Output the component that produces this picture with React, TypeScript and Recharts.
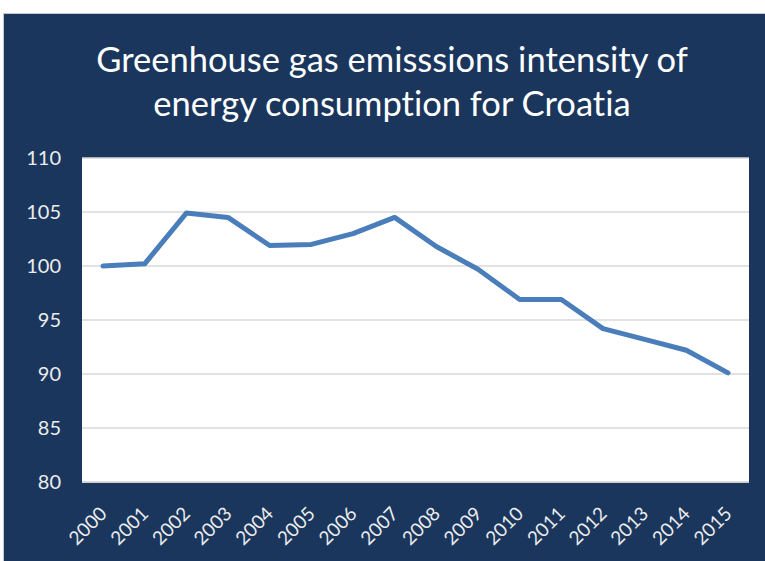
import React from "react";
import { LineChart, Line, XAxis, YAxis, CartesianGrid } from "recharts";

const years = ["2000","2001","2002","2003","2004","2005","2006","2007","2008","2009","2010","2011","2012","2013","2014","2015"];
const intensity = [100.0, 100.2, 104.9, 104.5, 101.9, 102.0, 103.0, 104.5, 101.8, 99.7, 96.9, 96.9, 94.2, 93.2, 92.2, 90.1];
const yTicks = [80, 85, 90, 95, 100, 105, 110];
const titleLines = ["Greenhouse gas emisssions intensity of", "energy consumption for Croatia"];

const data = years.map((y, i) => ({ year: y, value: intensity[i] }));

const FONT = "Lato, 'Open Sans', sans-serif";
const NAVY = "#1a365d";

const XTick = (props: any) => {
  const { x, y, payload } = props;
  return (
    <text
      x={x + 5}
      y={y + 25}
      transform={`rotate(-45, ${x + 5}, ${y + 25})`}
      textAnchor="end"
      fill="#ececec"
      fontSize={19}
      fontFamily={FONT}
    >
      {payload.value}
    </text>
  );
};

export default function App() {
  return (
    <div style={{ position: "absolute", left: 0, top: 0, width: 765, height: 561, background: "#fff", fontFamily: FONT }}>
      <div
        style={{
          position: "absolute",
          left: 4,
          top: 14,
          width: 761,
          height: 547,
          background: NAVY,
          boxShadow: "0 0 0 1px #c8c8c8",
        }}
      >
        <div
          style={{
            position: "absolute",
            left: 0,
            top: 23,
            width: 776,
            textAlign: "center",
            color: "#ffffff",
            fontSize: 34.5,
            lineHeight: "44px",
            fontFamily: FONT,
            fontVariantLigatures: "none",
            whiteSpace: "nowrap",
          }}
        >
          {titleLines.map((t) => (
            <div key={t}>{t}</div>
          ))}
        </div>
        <div style={{ position: "absolute", left: 0, top: 0 }}>
          <LineChart width={761} height={547} data={data} margin={{ top: 144, right: 16, bottom: 19, left: 18 }}>
            <CartesianGrid vertical={false} stroke="#d9d9d9" strokeWidth={1.5} fill="#ffffff" fillOpacity={1} />
            <XAxis
              dataKey="year"
              interval={0}
              tick={<XTick />}
              tickLine={false}
              axisLine={{ stroke: "#d9d9d9", strokeWidth: 1.5 }}
              padding={{ left: 21, right: 21 }}
              height={60}
            />
            <YAxis
              domain={[80, 110]}
              ticks={yTicks}
              interval={0}
              width={60}
              tickLine={false}
              axisLine={false}
              tickSize={6}
              tickMargin={15}
              tick={{ fill: "#ececec", fontSize: 20, fontFamily: FONT }}
            />
            <Line
              type="linear"
              dataKey="value"
              stroke="#4a7ebb"
              strokeWidth={5}
              dot={false}
              isAnimationActive={false}
              strokeLinejoin="round"
              strokeLinecap="round"
            />
          </LineChart>
        </div>
      </div>
    </div>
  );
}
